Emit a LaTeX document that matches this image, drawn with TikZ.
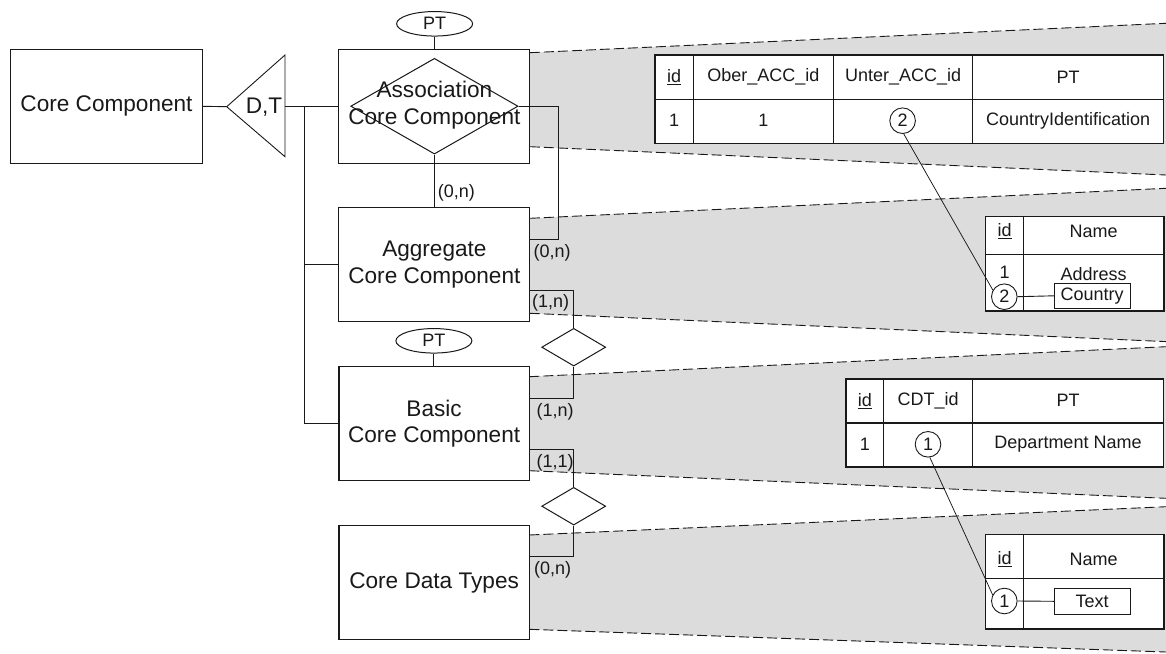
\documentclass[tikz,border=0pt]{standalone}
\usepackage{fontspec}
\setmainfont{Liberation Sans}
\usetikzlibrary{shapes.geometric}
\definecolor{bandgray}{RGB}{220,220,220}
\definecolor{ink}{RGB}{25,25,25}
\begin{document}
\begin{tikzpicture}[x=1pt,y=-1pt,
  every node/.style={font=\fontsize{18}{21}\selectfont, inner sep=0pt, text=ink},
  ebox/.style={draw=ink, line width=1.1pt, fill=white, minimum width=191pt, minimum height=114pt, align=center, font=\fontsize{22.6}{26.5}\selectfont},
  conn/.style={draw=ink, line width=0.9pt},
  thin/.style={draw=ink, line width=0.75pt},
  band/.style={fill=bandgray, draw=none},
  bandedge/.style={draw=ink, line width=0.9pt, dash pattern=on 10pt off 4pt},
  relshape/.style={diamond, draw=ink, line width=1pt, fill=white, minimum width=64pt, minimum height=37.7pt},
  attr/.style={ellipse, draw=ink, line width=1pt, fill=white, minimum width=76pt, minimum height=24.5pt},
  card/.style={anchor=west},
  tbl/.style={draw=ink, line width=1.1pt, fill=white},
  tline/.style={draw=ink, line width=1.1pt},
  refc/.style={circle, draw=ink, line width=0.9pt, fill=white, minimum size=25.6pt},
  valbox/.style={rectangle, draw=ink, line width=0.9pt, fill=white, minimum width=75.7pt},
]
\useasboundingbox (0,0) rectangle (1166,653);

% shaded bands
\fill[band] (529.9,52.7) -- (1166,23.3) -- (1166,175) -- (529.9,146.7) -- cycle;
\fill[band] (529.9,218.3) -- (1166,188.3) -- (1166,341.6) -- (529.9,313.3) -- cycle;
\fill[band] (529.3,376.7) -- (1166,346.7) -- (1166,498.3) -- (529.3,470.7) -- cycle;
\fill[band] (529.3,535) -- (1166,506.7) -- (1166,652) -- (529.3,629.3) -- cycle;
\draw[bandedge] (529.9,52.7) -- (1166,23.3);
\draw[bandedge] (529.9,146.7) -- (1166,175);
\draw[bandedge] (529.9,218.3) -- (1166,188.3);
\draw[bandedge] (529.9,313.3) -- (1166,341.6);
\draw[bandedge] (529.3,376.7) -- (1166,346.7);
\draw[bandedge] (529.3,470.7) -- (1166,498.3);
\draw[bandedge] (529.3,535) -- (1166,506.7);
\draw[bandedge] (529.3,629.3) -- (1166,652);

% entity boxes
\node[ebox, minimum width=191.6pt] (cc) at (106.5,106.3) {Core Component};
\node[ebox] (acc) at (434.4,106.3) {};
\node[ebox] (agg) at (434.4,264.7) {Aggregate\\Core Component};
\node[ebox, minimum width=190.3pt] (bcc) at (434.1,423.7) {Basic\\Core Component};
\node[ebox, minimum width=190.3pt, minimum height=113.6pt] (cdt) at (434.1,582.5) {Core Data Types};

% diamond inside ACC
\node[diamond, draw=ink, line width=1pt, minimum width=167.3pt, minimum height=95.7pt] (d1) at (434.4,106.2) {};
\node[align=center, font=\fontsize{22.6}{27.3}\selectfont] (acctext) at (434.4,105.5) {Association\\Core Component};

% generalisation triangle
\coordinate (triL) at (226.7,106.7);
\coordinate (triR) at (285,106.7);
\draw[conn, fill=white] (triL) -- (285,55) -- (285,156.7) -- cycle;
\node[font=\fontsize{22.6}{26}\selectfont, anchor=east] (dt) at (282.5,106.7) {D,T};
\draw[conn] (cc.east) -- (triL);
\draw[conn] (triR) -- (acc.west |- triR);
\coordinate (jn) at (304.3,106.7);
\draw[conn] (jn) |- (agg.west);
\draw[conn] (jn) |- (bcc.west);

% PT attributes
\node[attr] (pt1) at (434.6,23.8) {PT};
\draw[conn] (pt1.south) -- (pt1.south |- acc.north);
\node[attr] (pt2) at (433.9,340.8) {PT};
\draw[conn] (pt2.south) -- (pt2.south |- bcc.north);

% relationship diamonds
\node[relshape] (d2) at (573.7,347.2) {};
\node[relshape] (d3) at (573.7,506.2) {};

% connectors with cardinalities
\draw[conn] (d1.south) -- (d1.south |- agg.north);
\node[card] (l1) at (437.7,193.3) {(0,n)};
\coordinate (k1) at (558.3,239);
\draw[conn] (d1.east) -| (k1) -- (k1 -| agg.east);
\node[card] (l2) at (533.5,253.3) {(0,n)};
\coordinate (k2) at (0,290);
\draw[conn] (agg.east |- k2) -| (d2.north);
\node[card] (l3) at (532,303.3) {(1,n)};
\coordinate (k3) at (0,398.3);
\draw[conn] (d2.south) |- (bcc.east |- k3);
\node[card] (l4) at (536.5,411.7) {(1,n)};
\coordinate (k4) at (0,449.3);
\draw[conn] (bcc.east |- k4) -| (d3.north);
\node[card] (l5) at (536.5,463.3) {(1,1)};
\coordinate (k5) at (0,556.7);
\draw[conn] (d3.south) |- (cdt.east |- k5);
\node[card] (l6) at (534,570) {(0,n)};

% table 1 (ACC)
\draw[tbl] (655,55) rectangle (1163.5,143.3);
\draw[tline] (655,99.3) -- (1163.5,99.3);
\draw[tline] (693.3,55) -- (693.3,143.3);
\draw[tline] (833.5,55) -- (833.5,143.3);
\draw[tline] (972.8,55) -- (972.8,143.3);
\node (t1h1) at (674.2,77.2) {\underline{id}};
\node (t1h2) at (763.4,77.2) {Ober\_ACC\_id};
\node (t1h3) at (903.2,77.2) {Unter\_ACC\_id};
\node (t1h4) at (1068.2,77.2) {PT};
\node (t1r1) at (674.2,120.7) {1};
\node (t1r2) at (763.4,120.7) {1};
\node[refc] (c1) at (902.6,120.7) {2};
\node (t1r4) at (1068.2,120.7) {CountryIdentification};

% table 2 (Aggregate)
\draw[tbl] (985.7,216.7) rectangle (1164,311);
\draw[tline] (985.7,254.3) -- (1164,254.3);
\draw[tline] (1023.3,216.7) -- (1023.3,311);
\node (t2h1) at (1004.5,231.5) {\underline{id}};
\node (t2h2) at (1093.7,231.5) {Name};
\node (t2r1) at (1004.5,272.7) {1};
\node (t2r2) at (1093.7,274) {Address};
\node[refc] (c2) at (1004.3,296.7) {2};
\node[valbox, minimum height=25pt] (country) at (1092.2,295.8) {Country};
\draw[conn] (c2.east) -- (country.west);

% table 3 (Basic)
\draw[tbl] (846,379) rectangle (1163.3,467);
\draw[tline] (846,423) -- (1163.3,423);
\draw[tline] (883.7,379) -- (883.7,467);
\draw[tline] (972.7,379) -- (972.7,467);
\node (t3h1) at (864.8,400.7) {\underline{id}};
\node (t3h2) at (928.2,400.7) {CDT\_id};
\node (t3h3) at (1068,400.7) {PT};
\node (t3r1) at (864.8,444) {1};
\node[refc] (c3) at (928,444.3) {1};
\node (t3r3) at (1068,444) {Department Name};

% table 4 (CDT)
\draw[tbl] (985.7,534.3) rectangle (1164,629);
\draw[tline] (985.7,578.3) -- (1164,578.3);
\draw[tline] (1023.3,534.3) -- (1023.3,629);
\node (t4h1) at (1004.5,559.3) {\underline{id}};
\node (t4h2) at (1093.7,559.3) {Name};
\node[refc] (c4) at (1004.3,601) {1};
\node[valbox, minimum height=26pt] (textbox) at (1092.2,601.3) {Text};
\draw[conn] (c4.east) -- (textbox.west);

% reference lines between circles
\draw[thin] (c1.-85) -- (c2.150);
\draw[thin] (c3.-82) -- (c4.152);
\end{tikzpicture}
\end{document}
